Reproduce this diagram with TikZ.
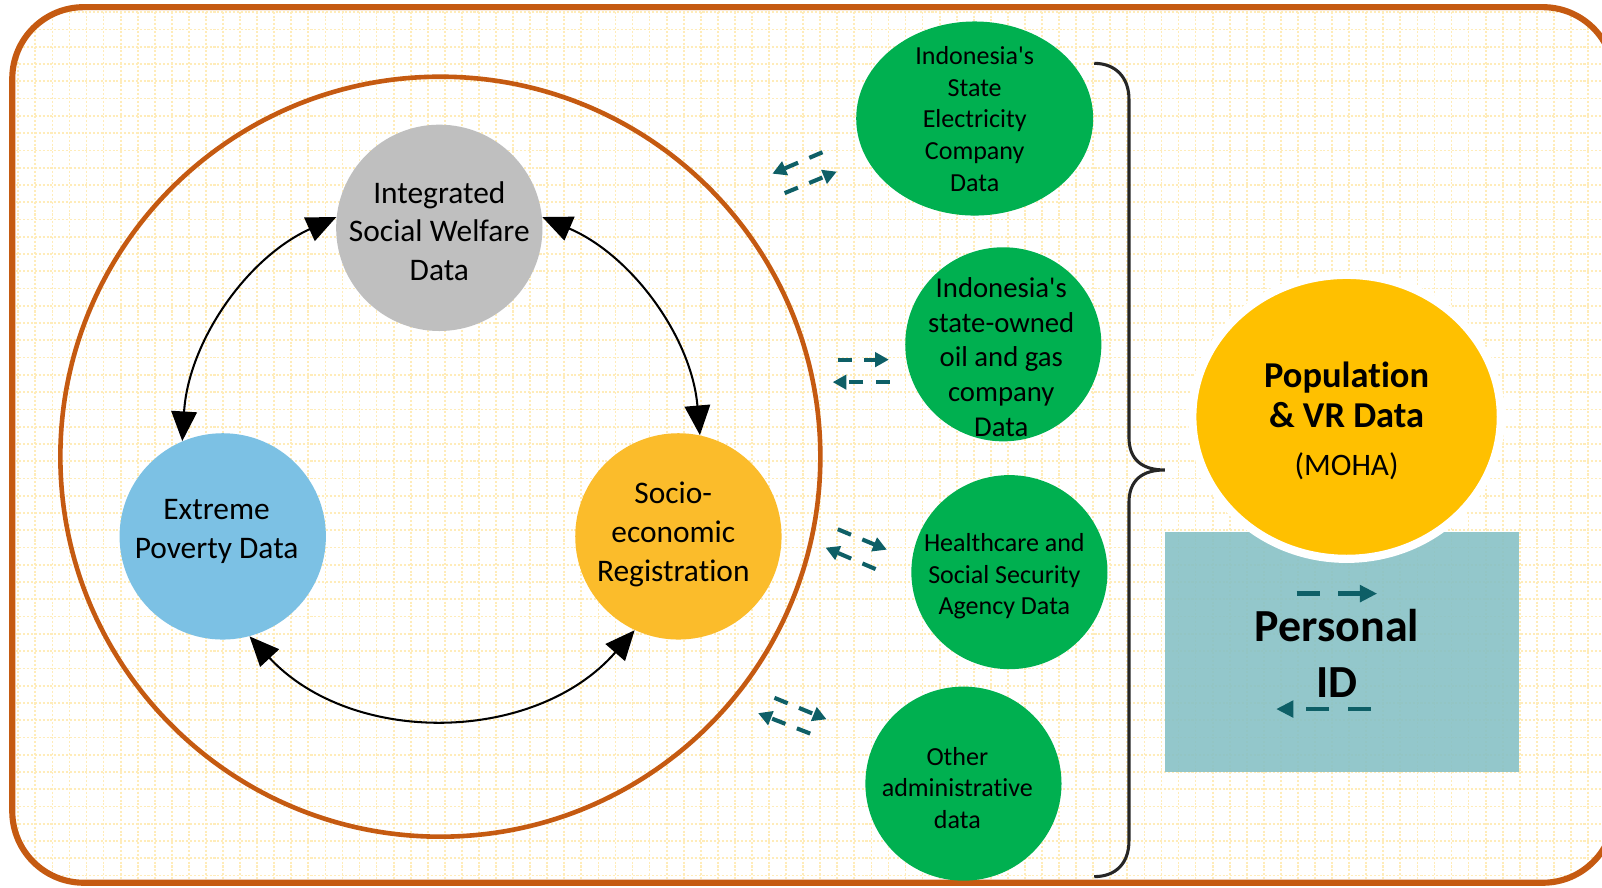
\documentclass[tikz,border=0pt]{standalone}
\usepackage{fontspec}
\setmainfont{Carlito}[Ligatures={NoCommon}]
\usetikzlibrary{arrows.meta,shapes.geometric}
\definecolor{frameorange}{HTML}{C55A11}
\definecolor{gridyellow}{RGB}{255,236,185}
\definecolor{welfaregray}{HTML}{BFBFBF}
\definecolor{povertyblue}{HTML}{7CC1E4}
\definecolor{socioyellow}{HTML}{FBBC2B}
\definecolor{admingreen}{HTML}{00B050}
\definecolor{popyellow}{HTML}{FFC000}
\definecolor{idteal}{HTML}{88C1C6}
\definecolor{arrowteal}{HTML}{0E5F66}
\definecolor{bracegray}{HTML}{262626}
\begin{document}
\begin{tikzpicture}[x=0.02cm, y=-0.02cm,
  gridline/.style={gridyellow, line width=0.035cm, dash pattern=on 0.04cm off 0.036cm},
  frame/.style={frameorange, line width=0.12cm, rounded corners=1.4cm},
  ring/.style={circle, draw=frameorange, line width=0.09cm, inner sep=0pt, minimum size=14.88cm},
  hub/.style={circle, inner sep=0pt, minimum size=4.04cm},
  source/.style={ellipse, inner sep=0pt, fill=admingreen, minimum width=3.84cm, minimum height=3.8cm},
  txt/.style={align=center, inner sep=0pt, text=black},
  bigtxt/.style={txt, font=\fontsize{17.5}{21.5}\selectfont},
  smalltxt/.style={txt, font=\fontsize{14.5}{17.6}\selectfont},
  link/.style={line width=0.04cm, black, {Triangle[length=0.58cm,width=0.5cm]}-{Triangle[length=0.58cm,width=0.5cm]}},
  flow/.style={arrowteal, line width=0.08cm, dash pattern=on 0.28cm off 0.24cm, -{Triangle[length=0.27cm,width=0.28cm]}},
  idflow/.style={arrowteal, line width=0.09cm, dash pattern=on 0.45cm off 0.37cm, -{Triangle[length=0.34cm,width=0.32cm]}},
  brace/.style={bracegray, line width=0.06cm}
]
\useasboundingbox (0,0) rectangle (1568,869);
% background grid
\begin{scope}
  \clip[rounded corners=1.4cm] (12,7) rectangle (1580,864);
  \fill[white] (0,0) rectangle (1600,880);
  \foreach \i in {0,...,93} \draw[gridline] ({17.9+16.7*\i},0) -- ({17.9+16.7*\i},880);
  \foreach \j in {0,...,51} \draw[gridline] (0,{12+16.9*\j}) -- (1600,{12+16.9*\j});
\end{scope}
\draw[frame] (12,7) rectangle (1580,864);

% big ring and three hubs
\node[ring] (ringnode) at (431,447) {};
\node[hub, fill=welfaregray] (welfare) at (430,223) {};
\node[hub, fill=povertyblue] (poverty) at (218,525) {};
\node[hub, fill=socioyellow] (socio) at (664,525) {};
\node[bigtxt] (welfaretxt) at (430,226) {Integrated\\Social Welfare\\Data};
\node[bigtxt] (povertytxt) at (212,520) {Extreme\\Poverty Data};
\node[bigtxt] (sociotxt) at (659,523) {Socio-\\economic\\Registration};

\draw[link] (welfare.174) to[bend right=31, looseness=0.93] (poverty.113);
\draw[link] (welfare.6) to[bend left=31, looseness=0.93] (socio.78);
\draw[link] (poverty.285) to[bend right=48] (socio.245);

% green sources
\node[source, minimum width=4.64cm] (pln) at (954,116) {};
\node[source] (oilgas) at (982,337) {};
\node[source] (bpjs) at (988,560) {};
\node[source] (other) at (943,767) {};
\node[smalltxt] (plntxt) at (954,116.5) {Indonesia\textquotesingle s\\State\\Electricity\\Company\\Data};
\node[txt, font=\fontsize{16}{19.4}\selectfont] (oilgastxt) at (980,349.5) {Indonesia\textquotesingle s\\state-owned\\oil and gas\\company\\Data};
\node[smalltxt] (bpjstxt) at (983,564) {Healthcare and\\Social Security\\Agency Data};
\node[smalltxt] (othertxt) at (937,771) {Other\\administrative\\data};

% dashed exchange arrows
\draw[flow] (805,149) -- (756,170);
\draw[flow] (768,189) -- (819,168);
\draw[flow] (820,352) -- (870,352);
\draw[flow] (871,374) -- (815,374);
\draw[flow] (820,518) -- (868,538);
\draw[flow] (857,557) -- (808,536);
\draw[flow] (758,683) -- (809,704);
\draw[flow] (793,718) -- (742,698);

% brace
\draw[brace] (1071,62) .. controls (1092,62) and (1105,76) .. (1105,97) -- (1105,428)
  .. controls (1105,450) and (1118,460) .. (1140,460)
  .. controls (1118,460) and (1105,470) .. (1105,492) -- (1105,823)
  .. controls (1105,845) and (1092,858) .. (1071,858);

% personal ID and population
\node[rectangle, inner sep=0pt, fill=idteal, fill opacity=0.9, minimum width=6.94cm, minimum height=4.7cm] (pid) at (1313.5,638.5) {};
\node[ellipse, inner sep=0pt, fill=popyellow, draw=white, line width=0.16cm, minimum width=6.04cm, minimum height=5.56cm] (pop) at (1318,408) {};
\node[txt, font=\bfseries\fontsize{20.3}{22.2}\selectfont] (poptxt) at (1318,386.5) {Population\\\& VR Data};
\node[txt, font=\fontsize{17.4}{20}\selectfont] (mohatxt) at (1318,456) {(MOHA)};
\node[txt, font=\bfseries\fontsize{25.6}{31.2}\selectfont] (pidtxt) at (1308.5,639.5) {Personal\\ID};
\draw[idflow] (1269,581) -- (1348,581);
\draw[idflow] (1342,694) -- (1249,694);
\end{tikzpicture}
\end{document}
